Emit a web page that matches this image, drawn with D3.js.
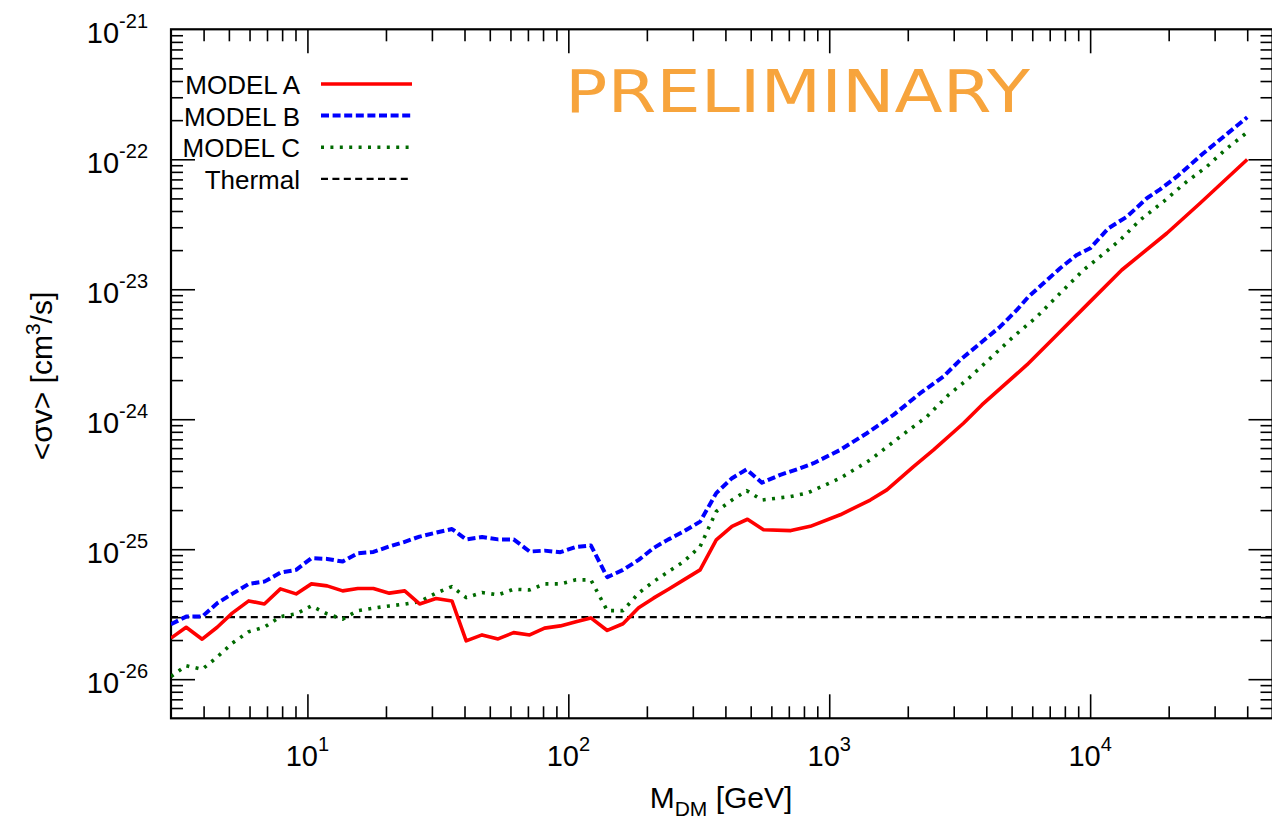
<!DOCTYPE html>
<meta charset="utf-8">
<style>
body { margin: 0; background: #fff; }
svg { display: block; font-family: "Liberation Sans", Arial, Helvetica, sans-serif; }
</style>
<svg width="1272" height="819"></svg>
<script src="https://d3js.org/d3.v7.min.js"></script>
<script>

// values of <sigma v> are in units of 1e-26 cm^3/s
var UNIT = 1e-26;

// common mass grid below ~300 GeV
var massLow = [3.0, 3.43, 3.95, 4.51, 5.15, 5.96, 6.84, 7.88, 9.05, 10.36, 11.9, 13.65, 15.6, 17.9,
    20.6, 23.6, 26.9, 31.1, 35.8, 40.6, 46.7, 53.8, 61.7, 71.1, 81.1, 93.2, 107, 122, 141, 162,
    186, 212, 242, 277, 320];

var modelALow = [2.07, 2.51, 2.03, 2.51, 3.22, 4.0, 3.79, 4.95, 4.53, 5.41, 5.22, 4.78, 4.98, 4.98,
    4.59, 4.78, 3.79, 4.17, 4.0, 1.97, 2.19, 2.04, 2.28, 2.19, 2.47, 2.57, 2.77, 2.96, 2.37, 2.67,
    3.55, 4.2, 4.92, 5.81, 6.93];
var modelBLow = [2.65, 3.03, 3.03, 3.84, 4.53, 5.41, 5.63, 6.61, 6.93, 8.53, 8.42, 8.03, 9.31, 9.53,
    10.5, 11.4, 12.5, 13.4, 14.3, 11.9, 12.4, 11.9, 11.9, 9.59, 9.75, 9.48, 10.4, 10.7, 6.09, 6.93,
    8.27, 10.2, 11.9, 13.7, 16.3];
var modelCLow = [1.05, 1.27, 1.19, 1.48, 1.89, 2.32, 2.51, 3.03, 3.18, 3.66, 3.18, 2.9, 3.37, 3.52,
    3.66, 3.78, 3.95, 4.59, 5.16, 4.24, 4.64, 4.45, 4.92, 4.86, 5.41, 5.41, 5.81, 5.81, 3.37, 3.37,
    4.59, 5.63, 6.73, 8.03, 10.5];

// high mass part of each curve
var massAHigh = [369, 424, 486, 560, 713, 846, 1102, 1436, 1663, 2104, 2511, 3270, 3846, 5718, 7568,
    10000, 13220, 19680, 26380, 40000];
var modelAHigh = [11.8, 15.0, 17.0, 14.1, 13.9, 15.0, 18.4, 23.9, 28.6, 43.2, 58.1, 93.1, 128.8, 261.7,
    459, 803, 1406, 2697, 4590, 9960];

var massBHigh = [369, 424, 482, 552, 649, 774, 871, 1102, 1394, 1763, 2233, 2741, 3177, 3792, 4519,
    5237, 5805, 6623, 7674, 8893, 10000, 11750, 13830, 16490, 18540, 21480, 27170, 40000];
var modelBHigh = [27.0, 35.2, 41.1, 32.5, 37.3, 42.0, 45.9, 58.1, 78.0, 108, 158.5, 213, 286, 384, 515,
    693, 877, 1112, 1452, 1837, 2066, 2946, 3614, 5012, 5875, 7346, 11120, 21040];

var massCHigh = [369, 424, 483, 552, 709, 822, 1102, 1436, 1871, 2367, 2864, 3371, 4140, 5083, 6252,
    7674, 9427, 10920, 13030, 15550, 19100, 23450, 27990, 32890, 40000];
var modelCHigh = [19.5, 23.9, 28.2, 23.9, 25.4, 27.0, 35.2, 48.6, 73.5, 104.7, 153.8, 200.6, 294, 432,
    615, 931, 1406, 1782, 2393, 3413, 4721, 6730, 8770, 11800, 16140];

var thermal = 3.0; // 3e-26

var seriesNames = ["MODEL A", "MODEL B", "MODEL C", "Thermal"];
var seriesColors = ["#ff0000", "#0000ff", "#006a00", "#000000"];

var xMajor = [10, 100, 1000, 10000];
var xMinor = [4, 5, 6, 7, 8, 9, 20, 30, 40, 50, 60, 70, 80, 90, 200, 300, 400, 500, 600, 700, 800, 900,
    2000, 3000, 4000, 5000, 6000, 7000, 8000, 9000, 20000, 30000, 40000];
var yExp = [-26, -25, -24, -23, -22, -21];
var yMinorMant = [2, 3, 4, 5, 6, 7, 8, 9];

var svg = d3.select("svg");
var pLeft = 171, pRight = 1272.5, pTop = 29.3, pBottom = 718.3;

var x = d3.scaleLog().domain([3, 5e4]).range([pLeft, pRight]);
var y = d3.scaleLog().domain([5e-27, 1e-21]).range([pBottom, pTop]);

function isMajor(d) {
    var l = Math.log10(d);
    return Math.abs(l - Math.round(l)) < 1e-6;
}

var yTicks = [];
yExp.forEach(function(e) {
    yTicks.push(Math.pow(10, e));
    if (e < -21) yMinorMant.forEach(function(m) { yTicks.push(m * Math.pow(10, e)); });
});
[6, 7, 8, 9].forEach(function(m) { yTicks.push(m * 1e-27); });
yTicks = yTicks.filter(function(d) { return d < 0.99e-21; });

var xTicks = xMajor.concat(xMinor);

function styleAxis(g, attr, sign) {
    g.select(".domain").remove();
    g.selectAll(".tick line")
        .attr("stroke", "#000")
        .attr("stroke-width", 1.6)
        .attr(attr, function(d) { return sign * (isMajor(d) ? 24 : 12); });
}

svg.append("g").attr("transform", "translate(0," + pBottom + ")")
    .call(d3.axisBottom(x).tickValues(xTicks).tickSize(-12).tickFormat(""))
    .call(styleAxis, "y2", -1);
svg.append("g").attr("transform", "translate(0," + pTop + ")")
    .call(d3.axisTop(x).tickValues(xTicks).tickSize(-12).tickFormat(""))
    .call(styleAxis, "y2", 1);
svg.append("g").attr("transform", "translate(" + pLeft + ",0)")
    .call(d3.axisLeft(y).tickValues(yTicks).tickSize(-12).tickFormat(""))
    .call(styleAxis, "x2", 1);
svg.append("g").attr("transform", "translate(" + pRight + ",0)")
    .call(d3.axisRight(y).tickValues(yTicks).tickSize(-12).tickFormat(""))
    .call(styleAxis, "x2", -1);

// frame
svg.append("rect")
    .attr("x", pLeft).attr("y", pTop)
    .attr("width", pRight - pLeft).attr("height", pBottom - pTop)
    .attr("fill", "none").attr("stroke", "#000").attr("stroke-width", 2.2);

// tick labels
var xl = svg.append("g").selectAll("text").data(xMajor).enter().append("text")
    .attr("x", function(d) { return x(d); })
    .attr("y", 766)
    .attr("text-anchor", "middle")
    .attr("font-size", 29);
xl.append("tspan").text("10");
xl.append("tspan").attr("dy", -15).attr("font-size", 20)
    .text(function(d) { return Math.round(Math.log10(d)); });

var yl = svg.append("g").selectAll("text").data(yExp).enter().append("text")
    .attr("x", 148)
    .attr("y", function(d) { return y(Math.pow(10, d)) + 14; })
    .attr("text-anchor", "end")
    .attr("font-size", 29);
yl.append("tspan").text("10");
yl.append("tspan").attr("dy", -15).attr("font-size", 20)
    .text(function(d) { return "-" + Math.abs(d); });

// axis titles
var xt = svg.append("text")
    .attr("x", 721).attr("y", 808)
    .attr("text-anchor", "middle")
    .attr("font-size", 30);
xt.append("tspan").text("M");
xt.append("tspan").attr("dy", 8).attr("font-size", 21).text("DM");
xt.append("tspan").attr("dy", -8).text(" [GeV]");

var yt = svg.append("text")
    .attr("transform", "translate(52,376) rotate(-90)")
    .attr("text-anchor", "middle")
    .attr("font-size", 30);
yt.append("tspan").text("<\u03c3v> [cm");
yt.append("tspan").attr("dy", -12).attr("font-size", 21).text("3");
yt.append("tspan").attr("dy", 12).text("/s]");

// curves
svg.append("clipPath").attr("id", "plotclip")
    .append("rect").attr("x", pLeft).attr("y", pTop)
    .attr("width", pRight - pLeft).attr("height", pBottom - pTop);

function pairs(ms, vs) {
    return ms.map(function(m, i) { return [m, vs[i] * UNIT]; });
}

var curves = [
    pairs(massLow.concat(massAHigh), modelALow.concat(modelAHigh)),
    pairs(massLow.concat(massBHigh), modelBLow.concat(modelBHigh)),
    pairs(massLow.concat(massCHigh), modelCLow.concat(modelCHigh)),
    pairs([3, 5e4], [thermal, thermal])
];
var dashes = [null, "8,3.6", "3,6.4", "7,4.4"];
var widths = [3.6, 4, 3.6, 2.2];

var line = d3.line()
    .x(function(d) { return x(d[0]); })
    .y(function(d) { return y(d[1]); });

var plot = svg.append("g").attr("clip-path", "url(#plotclip)");
// draw thermal first, then C, B, A on top
[3, 2, 1, 0].forEach(function(i) {
    plot.append("path")
        .datum(curves[i])
        .attr("d", line)
        .attr("fill", "none")
        .attr("stroke", seriesColors[i])
        .attr("stroke-width", widths[i])
        .attr("stroke-dasharray", dashes[i])
        .attr("stroke-linejoin", "round");
});

// legend
var legend = svg.append("g").selectAll("g").data(seriesNames).enter().append("g")
    .attr("transform", function(d, i) { return "translate(0," + (84 + i * 31.6) + ")"; });
legend.append("text")
    .attr("x", 300).attr("y", 10)
    .attr("text-anchor", "end")
    .attr("font-size", 26)
    .text(function(d) { return d; });
legend.append("line")
    .attr("x1", 321).attr("x2", 412).attr("y1", 0).attr("y2", 0)
    .attr("stroke", function(d, i) { return seriesColors[i]; })
    .attr("stroke-width", function(d, i) { return widths[i]; })
    .attr("stroke-dasharray", function(d, i) { return dashes[i]; });

// watermark
svg.append("text")
    .attr("x", 565).attr("y", 112)
    .attr("textLength", 465)
    .attr("lengthAdjust", "spacingAndGlyphs")
    .attr("font-family", "'DejaVu Sans', sans-serif")
    .attr("font-size", 58)
    .attr("fill", "#f7a43c")
    .text("PRELIMINARY");

</script>
